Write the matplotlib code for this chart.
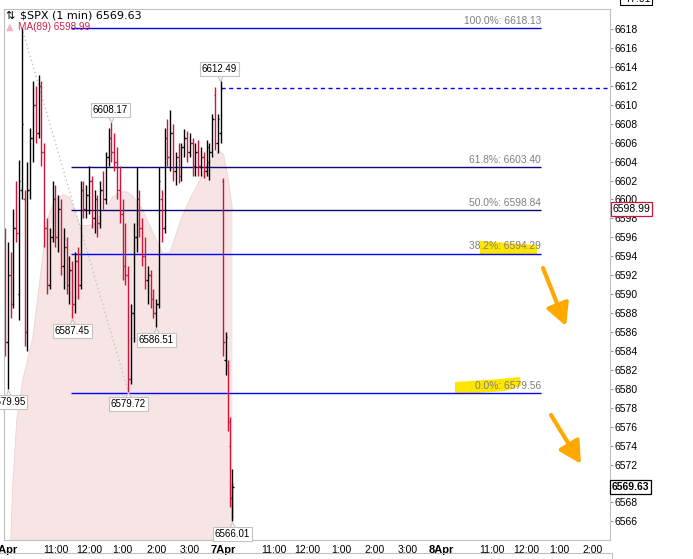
import numpy as np
import matplotlib.pyplot as plt
from matplotlib.patches import Polygon
from matplotlib.lines import Line2D
from matplotlib.transforms import offset_copy

W, H = 693, 559

# 6 Apr session, one bar per 5 minutes
d1_open = [6590.0, 6585.0, 6592.0, 6589.0, 6597.0, 6590.0, 6601.0, 6600.0, 6586.0, 6601.0,
           6606.5, 6610.0, 6607.0, 6612.0, 6605.0, 6597.0, 6591.0, 6596.0, 6600.0, 6596.0,
           6599.0, 6593.0, 6595.0, 6591.0, 6592.5, 6589.0, 6593.5, 6591.0, 6601.0, 6599.0,
           6600.5, 6602.0, 6598.0, 6600.0, 6597.5, 6601.0, 6600.0, 6604.5, 6606.5, 6605.0,
           6604.0, 6601.0, 6598.5, 6593.0, 6592.0, 6581.0, 6588.0, 6596.0, 6600.0, 6597.0,
           6594.0, 6591.5, 6592.0, 6589.5, 6588.0, 6589.0, 6600.0, 6597.0, 6606.5, 6604.5,
           6607.0, 6603.0, 6604.5, 6602.5, 6605.5, 6606.5, 6605.0, 6606.0, 6603.5, 6605.0,
           6603.5, 6604.5, 6603.0, 6604.0, 6605.0, 6611.0, 6606.0, 6607.0]
d1_high = [6597.0, 6595.5, 6594.5, 6599.0, 6602.0, 6604.2, 6618.13, 6601.0, 6604.0, 6607.5,
           6612.5, 6612.0, 6613.1, 6612.5, 6606.0, 6598.0, 6597.0, 6602.0, 6601.5, 6600.5,
           6600.0, 6597.0, 6596.0, 6594.0, 6593.5, 6594.5, 6595.0, 6602.0, 6602.0, 6601.5,
           6603.5, 6602.5, 6601.0, 6600.5, 6602.0, 6603.0, 6605.0, 6607.5, 6608.17, 6607.0,
           6605.5, 6603.5, 6600.0, 6597.5, 6593.0, 6589.0, 6597.5, 6603.4, 6601.0, 6598.0,
           6596.0, 6593.0, 6592.5, 6590.5, 6589.5, 6603.4, 6601.0, 6607.5, 6608.5, 6609.4,
           6608.0, 6605.0, 6606.0, 6606.0, 6607.4, 6607.2, 6607.0, 6606.5, 6606.0, 6606.3,
           6605.5, 6605.0, 6606.3, 6606.0, 6609.0, 6611.9, 6609.0, 6612.49]
d1_low = [6583.5, 6579.95, 6587.5, 6588.5, 6595.5, 6587.3, 6600.0, 6584.5, 6584.0, 6600.0,
          6604.0, 6606.0, 6606.5, 6603.5, 6595.0, 6590.0, 6590.5, 6595.5, 6595.0, 6594.5,
          6592.0, 6590.5, 6590.0, 6589.0, 6587.45, 6588.0, 6589.5, 6590.5, 6598.0, 6598.0,
          6598.5, 6597.0, 6596.5, 6596.0, 6597.0, 6599.0, 6599.5, 6603.5, 6604.0, 6603.0,
          6600.0, 6597.5, 6591.5, 6591.0, 6579.72, 6580.5, 6585.0, 6594.5, 6596.0, 6593.0,
          6590.5, 6589.0, 6588.5, 6587.5, 6586.51, 6588.5, 6595.5, 6596.5, 6603.5, 6603.0,
          6602.0, 6601.5, 6601.7, 6602.0, 6604.5, 6604.0, 6604.5, 6602.5, 6602.5, 6602.5,
          6602.5, 6602.3, 6602.5, 6602.1, 6604.5, 6605.2, 6604.9, 6606.0]
d1_close = [6585.0, 6592.0, 6589.0, 6597.0, 6596.5, 6602.0, 6608.0, 6586.0, 6601.0, 6606.5,
            6610.0, 6607.0, 6612.0, 6605.0, 6597.0, 6591.0, 6596.0, 6600.0, 6596.0, 6599.0,
            6593.0, 6595.0, 6591.0, 6592.5, 6589.0, 6593.5, 6591.0, 6601.0, 6599.0, 6600.5,
            6602.0, 6598.0, 6600.0, 6597.5, 6601.0, 6600.0, 6604.5, 6606.5, 6605.0, 6604.0,
            6601.0, 6598.5, 6593.0, 6592.0, 6581.0, 6588.0, 6596.0, 6600.0, 6597.0, 6594.0,
            6591.5, 6592.0, 6589.5, 6588.0, 6589.0, 6602.0, 6597.0, 6606.5, 6604.5, 6607.0,
            6603.0, 6604.5, 6602.5, 6605.5, 6606.5, 6605.0, 6606.0, 6603.5, 6605.0, 6603.5,
            6604.5, 6603.0, 6605.5, 6605.0, 6608.5, 6606.0, 6608.5, 6611.8]

# 7 Apr opening bars, one per 4 minutes
d2_open = [6602.0, 6583.0, 6582.5, 6574.0, 6568.5]
d2_high = [6602.3, 6586.0, 6583.0, 6577.0, 6571.5]
d2_low = [6583.5, 6581.5, 6575.5, 6567.5, 6566.01]
d2_close = [6585.0, 6585.5, 6576.5, 6568.5, 6569.63]

# MA(89) (minutes since 6 Apr open)
ma_minute = [9, 14, 21, 32, 50, 66, 75, 89, 104, 116, 134, 157, 179, 193, 209, 218, 229,
             246, 264, 282, 295, 316, 330, 348, 357, 370, 380, 390, 398, 406]
ma_value = [6562.0, 6570.0, 6576.7, 6581.0, 6585.5, 6593.3, 6597.8, 6600.0, 6600.5, 6600.2,
            6597.2, 6597.3, 6599.0, 6600.3, 6600.8, 6600.8, 6600.3, 6598.9, 6596.5, 6594.3,
            6594.4, 6598.2, 6600.0, 6602.0, 6603.3, 6604.3, 6605.2, 6604.8, 6602.4, 6598.99]

fib_name = ["100.0%", "61.8%", "50.0%", "38.2%", "0.0%"]
fib_value = [6618.13, 6603.40, 6598.84, 6594.29, 6579.56]
fib_color = ["#0000ff", "#0a0a70", "#0a0a70", "#0000ff", "#0000ff"]
fib_start, fib_end = 118, 957

tick_minute = [0, 90, 150, 210, 270, 330, 390, 480, 540, 600, 660, 720,
               780, 870, 930, 990, 1050]
tick_label = ["6Apr", "11:00", "12:00", "1:00", "2:00", "3:00", "7Apr", "11:00", "12:00",
              "1:00", "2:00", "3:00", "8Apr", "11:00", "12:00", "1:00", "2:00"]

last_price = 6569.63
ma_last = 6598.99
prior_close = 6611.8

RED = "#d2143a"
minute = np.concatenate([np.arange(len(d1_open)) * 5, 390 + np.arange(len(d2_open)) * 4])
o = np.array(d1_open + d2_open)
h = np.array(d1_high + d2_high)
l = np.array(d1_low + d2_low)
c = np.array(d1_close + d2_close)
col = np.where(c < o, RED, "black")

fig = plt.figure(figsize=(W / 100, H / 100), dpi=100)
ax = fig.add_axes([4 / W, 19 / H, 605.5 / W, 531 / H])
ax.set_xlim(-1.8, 1079.5)
ax.set_ylim(6564.04, 6620.11)


def px(x, y):
    return ax.transData.inverted().transform((x, H - y))


ax.fill_between(ma_minute, 6500, ma_value, color="#f7e4e4", lw=0, zorder=0.5)
ax.plot(ma_minute, ma_value, color="#f0d6d6", lw=0.7, zorder=0.6)

# fib anchor line
ax.plot([minute[6], minute[44]], [h[6], l[44]], color="#c4c4c4", lw=1.0, ls=(0, (1, 2)), zorder=0.7)

# highlighter strokes
ax.add_patch(Polygon([px(480, 241), px(537, 245), px(537, 255), px(480, 255)],
                     closed=True, fc="#ffe600", ec="none", zorder=1.5))
ax.add_patch(Polygon([px(455, 382), px(500, 379), px(520, 377), px(521, 386), px(505, 391),
                      px(480, 393), px(455, 394)], closed=True, fc="#ffe600", ec="none", zorder=1.5))
ax.add_patch(Polygon([px(231, 483), px(234.5, 483), px(234.5, 519), px(231, 519)],
                     closed=True, fc="#ffe600", ec="none", zorder=1.5))

for name, val, fc in zip(fib_name, fib_value, fib_color):
    ax.hlines(val, fib_start, fib_end, color=fc, lw=1, zorder=1.8)
    ax.annotate(f"{name}: {val:.2f}", xy=(fib_end, val), xytext=(0, 1.5), textcoords="offset points",
                ha="right", va="bottom", fontsize=7.4, color="#7f7f7f", family="Liberation Sans",
                zorder=3)

ax.hlines(prior_close, minute[77], 1079.5, color="#0000ff", lw=1, ls=(0, (3, 2.5)), zorder=1.8)

# OHLC bars
ax.vlines(minute, l, h, colors=col, lw=1.0, zorder=2)
ax.hlines(o, minute - 2.4, minute, colors=col, lw=1.0, zorder=2)
ax.hlines(c, minute, minute + 2.4, colors=col, lw=1.0, zorder=2)

# swing labels with a small pointer tucked under the box
box = dict(boxstyle="square,pad=0.2", fc="white", ec="#c4c4c4", lw=0.8)
for i in [77, 38]:
    ax.annotate(f"{h[i]:.2f}", xy=(minute[i], h[i]), xytext=(-1, 8.5), textcoords="offset points",
                ha="center", va="center", fontsize=7, family="Liberation Sans", bbox=box, zorder=4)
    ax.plot(minute[i], h[i], marker="v", ms=4.5, mfc="white", mec="#c4c4c4", mew=0.8, zorder=3.9,
            transform=offset_copy(ax.transData, fig, x=-0.5, y=2.2, units="points"))
for i in [1, 24, 44, 54, len(o) - 1]:
    ax.annotate(f"{l[i]:.2f}", xy=(minute[i], l[i]), xytext=(0, -9), textcoords="offset points",
                ha="center", va="center", fontsize=7, family="Liberation Sans", bbox=box, zorder=4)
    ax.plot(minute[i], l[i], marker="^", ms=4.5, mfc="white", mec="#c4c4c4", mew=0.8, zorder=3.9,
            transform=offset_copy(ax.transData, fig, y=-2.5, units="points"))

# orange arrows
for s, e in [((543, 268), (566, 326)), ((551, 415), (581, 464))]:
    ax.annotate("", xy=px(*e), xytext=px(*s),
                arrowprops=dict(arrowstyle="-|>,head_length=0.6,head_width=0.32", color="#ffa800",
                                lw=3.0, mutation_scale=22, shrinkA=0, shrinkB=0), zorder=5)

# axes styling
for sp in ax.spines.values():
    sp.set_color("#c0c0c0")
    sp.set_linewidth(0.8)
ax.yaxis.tick_right()
ax.set_yticks(np.arange(6566, 6619, 2))
ax.tick_params(axis="y", length=2.5, width=0.6, color="#808080", pad=1, labelsize=7.5)
ax.set_xticks(tick_minute)
ax.set_xticklabels(tick_label)
ax.tick_params(axis="x", length=0, pad=3.5, labelsize=7.5)
for t in ax.get_xticklabels() + ax.get_yticklabels():
    t.set_family("Liberation Sans")
for t in ax.get_xticklabels():
    if "Apr" in t.get_text():
        t.set_fontweight("bold")
        t.set_fontsize(8)

ax.annotate(f"{ma_last:.2f}", xy=(1, ma_last), xycoords=("axes fraction", "data"), xytext=(2.5, 0),
            textcoords="offset points", ha="left", va="center", fontsize=7.5, family="Liberation Sans",
            bbox=dict(boxstyle="square,pad=0.15", fc="white", ec=RED, lw=0.9), annotation_clip=False,
            zorder=6)
ax.annotate(f"{last_price:.2f}", xy=(1, last_price), xycoords=("axes fraction", "data"), xytext=(1.5, 0),
            textcoords="offset points", ha="left", va="center", fontsize=7.5, fontweight="bold",
            family="Liberation Sans", bbox=dict(boxstyle="square,pad=0.15", fc="white", ec="black", lw=0.9),
            annotation_clip=False, zorder=6)

# header lines
fig.text(5 / W, 1 - 16 / H, "\u21c5", fontsize=8, va="center", ha="left", family="DejaVu Sans")
fig.text(20 / W, 1 - 16 / H, f"$SPX (1 min) {last_price:.2f}", fontsize=8, va="center", ha="left",
         family="DejaVu Sans")
fig.text(6 / W, 1 - 27 / H, "\u25b2", fontsize=7, va="center", ha="left", color="#f2b3bd",
         family="DejaVu Sans")
fig.text(18 / W, 1 - 27 / H, f"MA(89) {ma_last:.2f}", fontsize=7.2, va="center", ha="left",
         color="#d4204a", family="Liberation Sans")

# clipped pieces of the neighbouring panels
fig.text(636 / W, 1 + 1.5 / H, "-47.01", fontsize=7.5, ha="center", va="center", family="Liberation Sans",
         bbox=dict(boxstyle="square,pad=0.15", fc="white", ec="black", lw=0.8))
fig.add_artist(Line2D([0, 612 / W], [6 / H, 6 / H], color="#c0c0c0", lw=0.8))
fig.add_artist(Line2D([612 / W, 612 / W], [0, 6 / H], color="#c0c0c0", lw=0.8))

fig.savefig("out.png", dpi=100)
